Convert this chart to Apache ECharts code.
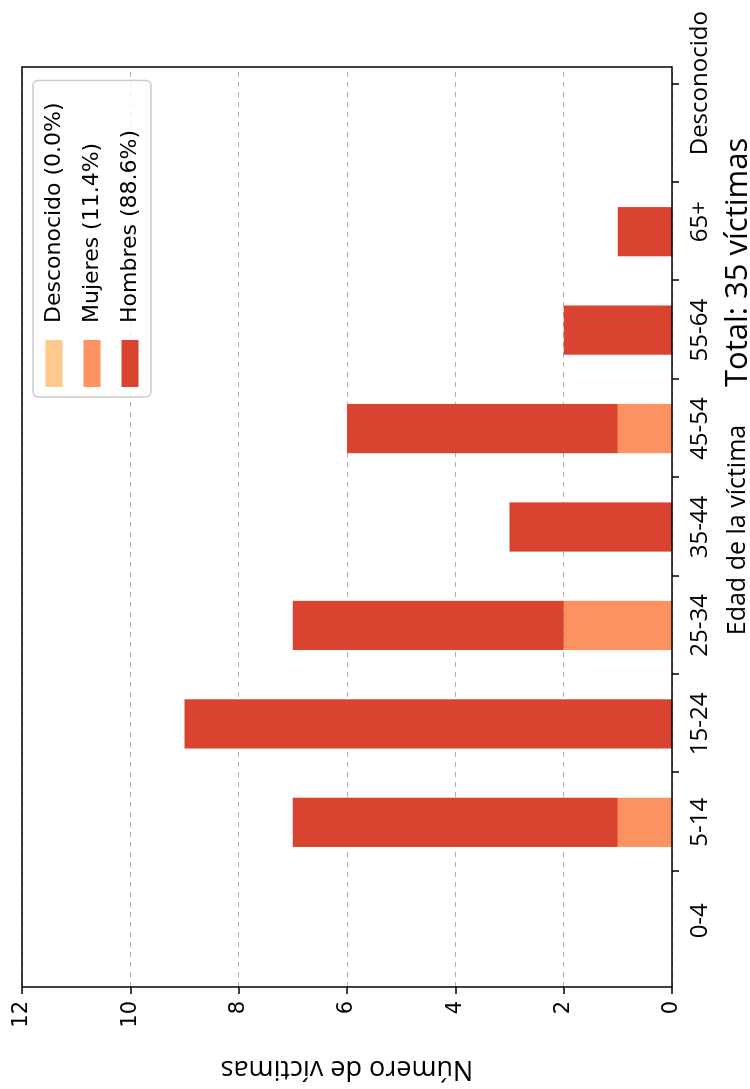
<!DOCTYPE html>
<html><head><meta charset="utf-8">
<script src="https://cdn.jsdelivr.net/npm/echarts@6/dist/echarts.min.js"></script>
<style>
html,body{margin:0;padding:0;background:#fff;overflow:hidden;width:750px;height:1089px;}
#wrap{position:absolute;left:0;top:0;width:1089px;height:750px;transform-origin:0 0;transform:translateY(1089px) rotate(-90deg);}
</style></head><body>
<div id="wrap"></div>
<script>
const categories = ['0-4','5-14','15-24','25-34','35-44','45-54','55-64','65+','Desconocido'];
const desconocido = [0,0,0,0,0,0,0,0,0];
const mujeres = [0,1,0,2,0,1,0,0,0];
const hombres = [0,6,9,5,3,5,2,1,0];
const seriesNames = ['Desconocido (0.0%)','Mujeres (11.4%)','Hombres (88.6%)'];
const seriesColors = ['#fdca8c','#fc9262','#d9432f'];
const valueMin = 0, valueMax = 12, valueStep = 2;
const xLabel = 'Edad de la víctima';
const yLabel = 'Número de víctimas';
const totalText = 'Total: 35 víctimas';

const chart = echarts.init(document.getElementById('wrap'), null, {renderer:'canvas', width:1089, height:750});
const CAT_FONT = 'Open Sans';
const NUM_FONT = 'DejaVu Sans';
const seriesData = [desconocido, mujeres, hombres];
const labelShift = {'65+': 20, 'Desconocido': 100};

const option = {
  animation: false,
  backgroundColor: '#ffffff',
  grid: [
    {left:102, right:67, top:22, bottom:78, show:true, borderColor:'#000', borderWidth:1.5, backgroundColor:'transparent', z:10},
    {left:119, right:84, top:22, bottom:78},
    {left:218, right:84, top:22, bottom:78}
  ],
  xAxis: [
    {gridIndex:0, type:'value', min:0, max:1, show:false},
    {gridIndex:1, type:'category', data:categories, boundaryGap:true,
      axisLine:{show:false}, axisTick:{show:false},
      axisLabel:{fontFamily:CAT_FONT, fontSize:24, color:'#000', margin:16, interval:0,
        formatter: v => labelShift[v] ? '{s' + labelShift[v] + '|' + v + '}' : v,
        rich:{
          s20:{fontFamily:CAT_FONT, fontSize:24, color:'#000', padding:[0,0,0,20]},
          s100:{fontFamily:CAT_FONT, fontSize:24, color:'#000', padding:[0,0,0,100]}
        }}},
    {gridIndex:2, type:'category', data:categories, boundaryGap:false,
      axisLine:{show:false}, axisLabel:{show:false},
      axisTick:{show:true, length:7, interval:0, lineStyle:{color:'#000', width:1.5}}}
  ],
  yAxis: [
    {gridIndex:0, type:'value', min:valueMin, max:valueMax, interval:valueStep,
      axisLine:{show:false},
      axisTick:{show:true, length:7, lineStyle:{color:'#000', width:1.5}},
      axisLabel:{fontFamily:NUM_FONT, fontSize:21, color:'#000', margin:14},
      splitLine:{show:true, lineStyle:{color:'#b0b0b0', type:[5,5], width:1}}},
    {gridIndex:1, type:'value', min:valueMin, max:valueMax, interval:valueStep, show:false, splitLine:{show:false}},
    {gridIndex:2, type:'value', min:valueMin, max:valueMax, show:false, splitLine:{show:false}}
  ],
  legend: {
    orient:'vertical', left:692, top:33,
    data: seriesNames,
    icon:'rect', itemWidth:47, itemHeight:17, itemGap:16,
    padding:[10,22,10,10],
    borderColor:'#cccccc', borderWidth:1.5, borderRadius:5,
    backgroundColor:'rgba(255,255,255,0.8)',
    textStyle:{fontFamily:NUM_FONT, fontSize:22, color:'#000', padding:[0,0,0,12]},
    selectedMode:false, z:20
  },
  series: seriesNames.map((n,i)=>({
    name:n, type:'bar', xAxisIndex:1, yAxisIndex:1, stack:'total',
    data: seriesData[i], barWidth:'50%',
    itemStyle:{color:seriesColors[i]}
  })),
  graphic: [
    {type:'text', x:559, y:738, style:{text:xLabel, font:'25px "Open Sans"', fill:'#000', align:'center', verticalAlign:'middle'}},
    {type:'text', x:702, y:738, style:{text:totalText, font:'31px "Open Sans"', fill:'#000', align:'left', verticalAlign:'middle'}},
    {type:'text', x:20, y:347, rotation:Math.PI/2, style:{text:yLabel, font:'27px "Open Sans"', fill:'#000', align:'center', verticalAlign:'middle'}}
  ]
};
chart.setOption(option);
</script>
</body></html>
